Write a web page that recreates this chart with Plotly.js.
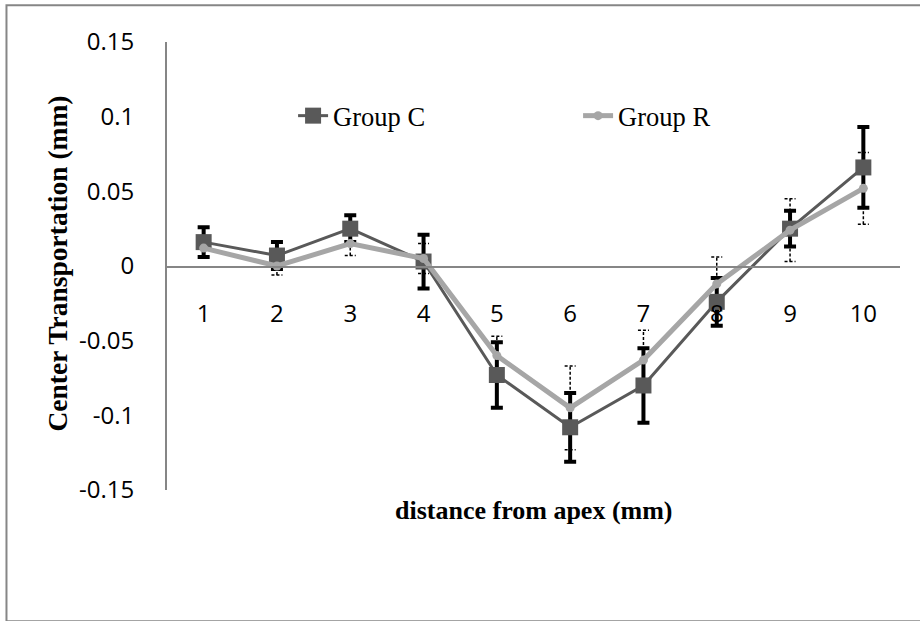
<!DOCTYPE html>
<html>
<head>
<meta charset="utf-8">
<script src="https://cdn.plot.ly/plotly-3.0.1.min.js"></script>
<style>
html,body{margin:0;padding:0;background:#fff;}
#chart{width:920px;height:621px;}
</style>
</head>
<body>
<div id="chart"></div>
<script>
// Data
var distances = [1, 2, 3, 4, 5, 6, 7, 8, 9, 10];
var tickLabels = ['1', '2', '3', '4', '5', '6', '7', '8', '9', '10'];
var groupC = [0.016, 0.007, 0.025, 0.003, -0.073, -0.108, -0.080, -0.024, 0.025, 0.066];
var groupCErr = [0.010, 0.009, 0.009, 0.018, 0.022, 0.023, 0.025, 0.016, 0.012, 0.027];
var groupR = [0.012, 0.000, 0.015, 0.005, -0.060, -0.095, -0.063, -0.012, 0.024, 0.052];
var groupRErr = [0.006, 0.006, 0.008, 0.010, 0.013, 0.028, 0.020, 0.018, 0.021, 0.024];

var capHalf = 0.075; // cap half width in x units for dashed bars

// Build dashed error bars for Group R from data
var rx = [], ry = [];
for (var i = 0; i < distances.length; i++) {
  var x = distances[i], lo = groupR[i] - groupRErr[i], hi = groupR[i] + groupRErr[i];
  rx.push(x, x, null, x - capHalf, x + capHalf, null, x - capHalf, x + capHalf, null);
  ry.push(lo, hi, null, hi, hi, null, lo, lo, null);
}

var traces = [
  {
    x: rx, y: ry, type: 'scatter', mode: 'lines', showlegend: false, hoverinfo: 'skip',
    line: {color: '#000000', width: 1.5, dash: '3px,2px'}
  },
  {
    x: distances, y: groupC, name: 'Group C', type: 'scatter', mode: 'lines+markers',
    line: {color: '#595959', width: 3},
    marker: {symbol: 'square', size: 16, color: '#595959'},
    error_y: {type: 'data', array: groupCErr, visible: true, color: '#000000', thickness: 4, width: 6}
  },
  {
    x: distances, y: groupR, name: 'Group R', type: 'scatter', mode: 'lines+markers',
    line: {color: '#A6A6A6', width: 5},
    marker: {symbol: 'circle', size: 9, color: '#A6A6A6'}
  }
];

var serif = 'Liberation Serif, Times New Roman, serif';
var sans = 'Open Sans, sans-serif';

var layout = {
  width: 920, height: 621,
  margin: {l: 167, r: 20, t: 42, b: 131},
  paper_bgcolor: '#ffffff', plot_bgcolor: '#ffffff',
  showlegend: true,
  legend: {
    orientation: 'h', x: 0.172, y: 0.835, xanchor: 'left', yanchor: 'middle',
    font: {family: serif, size: 26.5, color: '#000'},
    entrywidth: 240, entrywidthmode: 'pixels', bgcolor: 'rgba(0,0,0,0)', itemclick: false
  },
  xaxis: {
    range: [0.5, 10.5], tickvals: distances, ticktext: tickLabels,
    anchor: 'free', position: 0.5,
    showline: true, linecolor: '#868686', linewidth: 1.5,
    showgrid: false, zeroline: false,
    ticks: 'outside', ticklen: 26, tickcolor: 'rgba(0,0,0,0)',
    tickfont: {family: sans, size: 24, color: '#000'}
  },
  yaxis: {
    range: [-0.15, 0.15], tickvals: [-0.15, -0.1, -0.05, 0, 0.05, 0.1, 0.15],
    ticktext: ['-0.15', '-0.1', '-0.05', '0', '0.05', '0.1', '0.15'],
    showline: true, linecolor: '#868686', linewidth: 2,
    showgrid: false, zeroline: false,
    ticks: 'outside', ticklen: 26, tickcolor: 'rgba(0,0,0,0)',
    tickfont: {family: sans, size: 24, color: '#000'},
    title: {text: ''}
  },
  shapes: [
    {type: 'rect', xref: 'paper', yref: 'paper', x0: -0.219, x1: 1.05, y0: -0.293, y1: 1.082,
     line: {color: '#868686', width: 2}, fillcolor: 'rgba(0,0,0,0)', layer: 'below'}
  ],
  annotations: [
    {text: '<b>distance from apex (mm)</b>', xref: 'paper', yref: 'paper', x: 0.5, y: -0.045,
     xanchor: 'center', yanchor: 'middle', showarrow: false,
     font: {family: serif, size: 26, color: '#000'}},
    {text: '<b>Center Transportation (mm)</b>', xref: 'paper', yref: 'paper', x: -0.149, y: 0.505,
     xanchor: 'center', yanchor: 'middle', textangle: -90, showarrow: false,
     font: {family: serif, size: 27.5, color: '#000'}}
  ]
};

Plotly.newPlot('chart', traces, layout, {displayModeBar: false, staticPlot: true});
</script>
</body>
</html>
